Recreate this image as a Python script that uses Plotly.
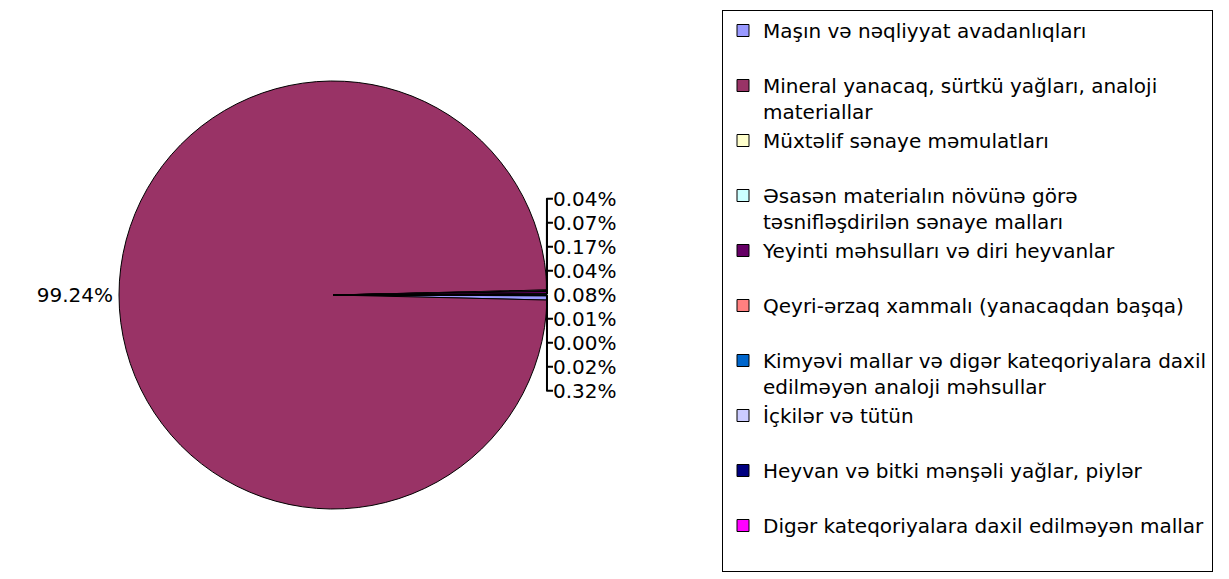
import plotly.graph_objects as go

categories = [
    "Maşın və nəqliyyat avadanlıqları<br> ",
    "Mineral yanacaq, sürtkü yağları, analoji<br>materiallar",
    "Müxtəlif sənaye məmulatları<br> ",
    "Əsasən materialın növünə görə<br>təsnifləşdirilən sənaye malları",
    "Yeyinti məhsulları və diri heyvanlar<br> ",
    "Qeyri-ərzaq xammalı (yanacaqdan başqa)<br> ",
    "Kimyəvi mallar və digər kateqoriyalara daxil<br>edilməyən analoji məhsullar",
    "İçkilər və tütün<br> ",
    "Heyvan və bitki mənşəli yağlar, piylər<br> ",
    "Digər kateqoriyalara daxil edilməyən mallar<br> ",
]
shares = [0.32, 99.24, 0.04, 0.07, 0.17, 0.04, 0.08, 0.01, 0.00, 0.02]
colors = ["#9999FF", "#993366", "#FFFFCC", "#CCFFFF", "#660066",
          "#FF8080", "#0066CC", "#CCCCFF", "#000080", "#FF00FF"]

W, H = 1229, 579
off = 8  # page body margin
cx, cy, r = 333 - off, 295 - off, 214

fig = go.Figure(go.Pie(
    labels=categories,
    values=shares,
    sort=False,
    direction="clockwise",
    rotation=90.2,
    marker=dict(colors=colors, line=dict(color="black", width=1)),
    textposition="outside",
    texttemplate="%{value:.2f}%",
    textfont=dict(family="DejaVu Sans", size=20, color="black"),
    hoverinfo="label+value",
    domain=dict(x=[(cx - r) / W, (cx + r) / W], y=[1 - (cy + r) / H, 1 - (cy - r) / H]),
))

fig.update_layout(
    width=W, height=H,
    margin=dict(l=0, r=0, t=0, b=0, autoexpand=False),
    paper_bgcolor="white",
    plot_bgcolor="white",
    font=dict(family="DejaVu Sans", color="black"),
    legend=dict(
        x=(722 - off) / W, y=1 - (10 - off) / H, xanchor="left", yanchor="top",
        bordercolor="black", borderwidth=1, bgcolor="white",
        font=dict(family="DejaVu Sans", size=20, color="black"),
        valign="top",
        traceorder="normal",
    ),
)

fig.write_html("out.html")
